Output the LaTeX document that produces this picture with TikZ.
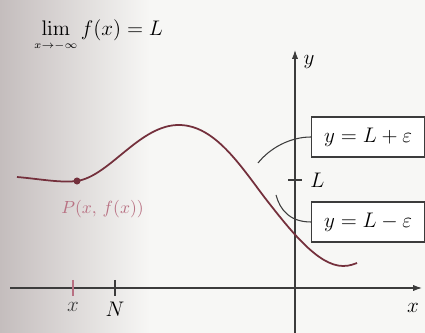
\documentclass[tikz,border=0pt]{standalone}
\usepackage{amsmath}
\usetikzlibrary{positioning,arrows.meta}
\definecolor{CurveMaroon}{HTML}{74303C}
\definecolor{PointRose}{HTML}{B87082}
\definecolor{AxisInk}{HTML}{3C3C3C}
\definecolor{PageShade}{HTML}{C4BDBD}
\definecolor{PaperWhite}{HTML}{F7F7F5}

\begin{document}
\begin{tikzpicture}[
    x=0.02cm, y=-0.02cm,
    axis/.style={draw=AxisInk, line width=0.6pt},
    tickmark/.style={draw=AxisInk, line width=0.8pt},
    boundbox/.style={
      draw=AxisInk,
      line width=0.7pt,
      fill=white,
      minimum width=2.26cm,
      minimum height=0.8cm,
      anchor=west,
      font=\large
    },
    leader/.style={draw=AxisInk, line width=0.6pt},
    dot/.style={circle, fill=CurveMaroon, inner sep=0pt, minimum size=4pt}
  ]
  \useasboundingbox (0,0) rectangle (425,333);
  \fill[PaperWhite] (0,0) rectangle (425,333);
  \shade[left color=PageShade, right color=PaperWhite] (0,0) rectangle (150,333);

  % title
  \node[anchor=west, font=\large] (limit) at (28,36) {$\lim\limits_{\scriptscriptstyle x\to-\infty} f(x) = L$};

  % axes
  \draw[axis, -{Latex[length=5pt,width=3.5pt]}] (10,288) -- (422,288);
  \draw[axis, -{Latex[length=5pt,width=3.5pt]}] (295,333) -- (295,50);
  \node[font=\large] (ylab) at (309,62) {$y$};
  \node[font=\large] (xlab) at (413,308) {$x$};

  % ticks
  \draw[tickmark, draw=PointRose] (73,280) -- (73,296) node[below=0pt, text=AxisInk, font=\large] (xtick) {$x$};
  \draw[tickmark] (115,280) -- (115,296) node[below=0pt, font=\large] (Ntick) {$N$};
  \draw[tickmark] (288,180) -- (302,180) node[right=1pt, font=\large] (Ltick) {$L$};

  % bounds
  \node[boundbox] (upper) at (311,137) {$y = L + \varepsilon$};
  \node[boundbox] (lower) at (311,222) {$y = L - \varepsilon$};
  \coordinate (upperend) at (258,163);
  \coordinate (lowerend) at (276,195);
  \draw[leader] (upper.west) .. controls (290,137) and (270,148) .. (upperend);
  \draw[leader] (lower.west) .. controls (290,222) and (280,210) .. (lowerend);

  % the graph
  \draw[CurveMaroon, line width=1pt]
    (17,177) .. controls (40,179) and (60,183) .. (77,181)
    .. controls (110,176) and (140,124) .. (180,125)
    .. controls (215,126) and (240,165) .. (265,198)
    .. controls (290,230) and (318,266) .. (343,266)
    .. controls (350,266) and (354,264) .. (357,263);
  \node[dot] (P) at (77,181) {};
  \node[text=PointRose, below right=6pt and -14pt of P] (Plab) {$P(x,\,f(x))$};
\end{tikzpicture}
\end{document}
